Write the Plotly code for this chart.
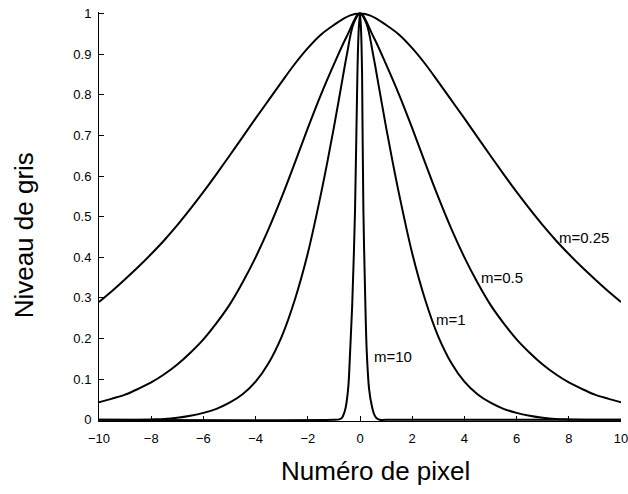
import plotly.graph_objects as go

# ---- data ----
x_m025 = [-10, -9.5, -9, -8.5, -8, -7.5, -7, -6.5, -6, -5.5, -5, -4.5, -4, -3.5, -3, -2.5, -2, -1.5, -1,
          -0.4, 0, 0.4, 1, 1.5, 2, 2.5, 3, 3.5, 4, 4.5, 5, 5.5, 6, 6.5, 7, 7.5, 8, 8.5, 9, 9.5, 10]
y_m025 = [0.29, 0.317, 0.346, 0.376, 0.408, 0.442, 0.479, 0.519, 0.561, 0.605, 0.65, 0.696, 0.742,
          0.787, 0.832, 0.876, 0.915, 0.948, 0.972, 0.995, 1.0, 0.995, 0.972, 0.948, 0.915, 0.876,
          0.832, 0.787, 0.742, 0.696, 0.65, 0.605, 0.561, 0.519, 0.479, 0.442, 0.408, 0.376, 0.346,
          0.317, 0.29]

x_m05 = [-10, -9.5, -9, -8.5, -8, -7.5, -7, -6.5, -6, -5.5, -5, -4.5, -4, -3.5, -3, -2.5, -2, -1.5, -1,
         -0.5, 0, 0.5, 1, 1.5, 2, 2.5, 3, 3.5, 4, 4.5, 5, 5.5, 6, 6.5, 7, 7.5, 8, 8.5, 9, 9.5, 10]
y_m05 = [0.043, 0.052, 0.062, 0.076, 0.092, 0.112, 0.136, 0.165, 0.198, 0.238, 0.283, 0.338, 0.40,
         0.47, 0.548, 0.632, 0.718, 0.80, 0.875, 0.945, 1.0, 0.945, 0.875, 0.80, 0.718, 0.632, 0.548,
         0.47, 0.40, 0.338, 0.283, 0.238, 0.198, 0.165, 0.136, 0.112, 0.092, 0.076, 0.062, 0.052, 0.043]

x_m1 = [-10, -9, -8, -7.5, -7, -6.5, -6, -5.5, -5, -4.5, -4, -3.5, -3, -2.5, -2, -1.5, -1.25, -1, -0.75,
        -0.5, -0.25, 0, 0.25, 0.5, 0.75, 1, 1.25, 1.5, 2, 2.5, 3, 3.5, 4, 4.5, 5, 5.5, 6, 6.5, 7, 7.5,
        8, 9, 10]
y_m1 = [0.0, 0.0, 0.001, 0.002, 0.005, 0.01, 0.017, 0.027, 0.042, 0.063, 0.094, 0.14, 0.205, 0.295,
        0.41, 0.555, 0.635, 0.72, 0.81, 0.9, 0.975, 1.0, 0.975, 0.9, 0.81, 0.72, 0.635, 0.555, 0.41,
        0.295, 0.205, 0.14, 0.094, 0.063, 0.042, 0.027, 0.017, 0.01, 0.005, 0.002, 0.001, 0.0, 0.0]

x_m10 = [-10, -1, -0.8, -0.7, -0.6, -0.55, -0.45, -0.38, -0.3, -0.19, -0.14, -0.1, -0.05, 0,
         0.04, 0.08, 0.1, 0.13, 0.2, 0.26, 0.35, 0.45, 0.55, 0.65, 0.75, 1, 10]
y_m10 = [0.0, 0.0, 0.001, 0.004, 0.018, 0.03, 0.08, 0.166, 0.28, 0.517, 0.7, 0.85, 0.96, 1.0,
         0.96, 0.85, 0.7, 0.517, 0.3, 0.166, 0.075, 0.035, 0.012, 0.003, 0.0, 0.0, 0.0]

curve_labels = ["m=0.25", "m=0.5", "m=1", "m=10"]
label_x = [7.6, 4.6, 2.87, 0.5]
label_y = [0.448, 0.35, 0.247, 0.157]

x_ticks = [-10, -8, -6, -4, -2, 0, 2, 4, 6, 8, 10]
y_ticks = [0, 0.1, 0.2, 0.3, 0.4, 0.5, 0.6, 0.7, 0.8, 0.9, 1]
y_tick_text = ["0", "0.1", "0.2", "0.3", "0.4", "0.5", "0.6", "0.7", "0.8", "0.9", "1"]

x_title = "Numéro de pixel"
y_title = "Niveau de gris"

FONT = "Liberation Sans, Arial, Helvetica, sans-serif"

fig = go.Figure()
for xs, ys in [(x_m025, y_m025), (x_m05, y_m05), (x_m1, y_m1), (x_m10, y_m10)]:
    fig.add_trace(go.Scatter(x=xs, y=ys, mode="lines",
                             line=dict(color="black", width=2, shape="spline", smoothing=1.0),
                             showlegend=False, hoverinfo="skip"))

for t, lx, ly in zip(curve_labels, label_x, label_y):
    fig.add_annotation(x=lx, y=ly, xref="x", yref="y", text=t, showarrow=False,
                       xanchor="left", yanchor="middle", borderpad=0,
                       font=dict(family=FONT, size=15, color="black"))

fig.add_annotation(x=0.529, y=-0.122, xref="paper", yref="paper", text=x_title, showarrow=False,
                   xanchor="center", yanchor="middle",
                   font=dict(family=FONT, size=26, color="black"))
fig.add_annotation(x=-0.144, y=0.4535, xref="paper", yref="paper", text=y_title, showarrow=False,
                   xanchor="center", yanchor="middle", textangle=-90,
                   font=dict(family=FONT, size=26, color="black"))

fig.update_layout(
    width=628, height=494,
    margin=dict(l=99, r=7, t=12, b=73, autoexpand=False),
    paper_bgcolor="white", plot_bgcolor="white",
    font=dict(family=FONT, color="black"),
)
fig.update_xaxes(range=[-10, 10], tickvals=x_ticks, ticks="inside", ticklen=5, tickwidth=1,
                 tickcolor="black", showline=True, linecolor="black", linewidth=1,
                 showgrid=False, zeroline=False, mirror=False, ticklabeloverflow="allow",
                 automargin=False,
                 tickfont=dict(family=FONT, size=13, color="black"), ticklabelstandoff=5)
fig.update_yaxes(range=[-0.003, 1.004], tickvals=y_ticks, ticktext=y_tick_text, ticks="inside",
                 ticklen=5, tickwidth=1, tickcolor="black", showline=True, linecolor="black",
                 linewidth=1, showgrid=False, zeroline=False, mirror=False, ticklabeloverflow="allow",
                 automargin=False,
                 tickfont=dict(family=FONT, size=13, color="black"), ticklabelstandoff=4)

fig.write_html("out.html", config={"displayModeBar": False},
               post_script="document.body.style.margin='0';")
